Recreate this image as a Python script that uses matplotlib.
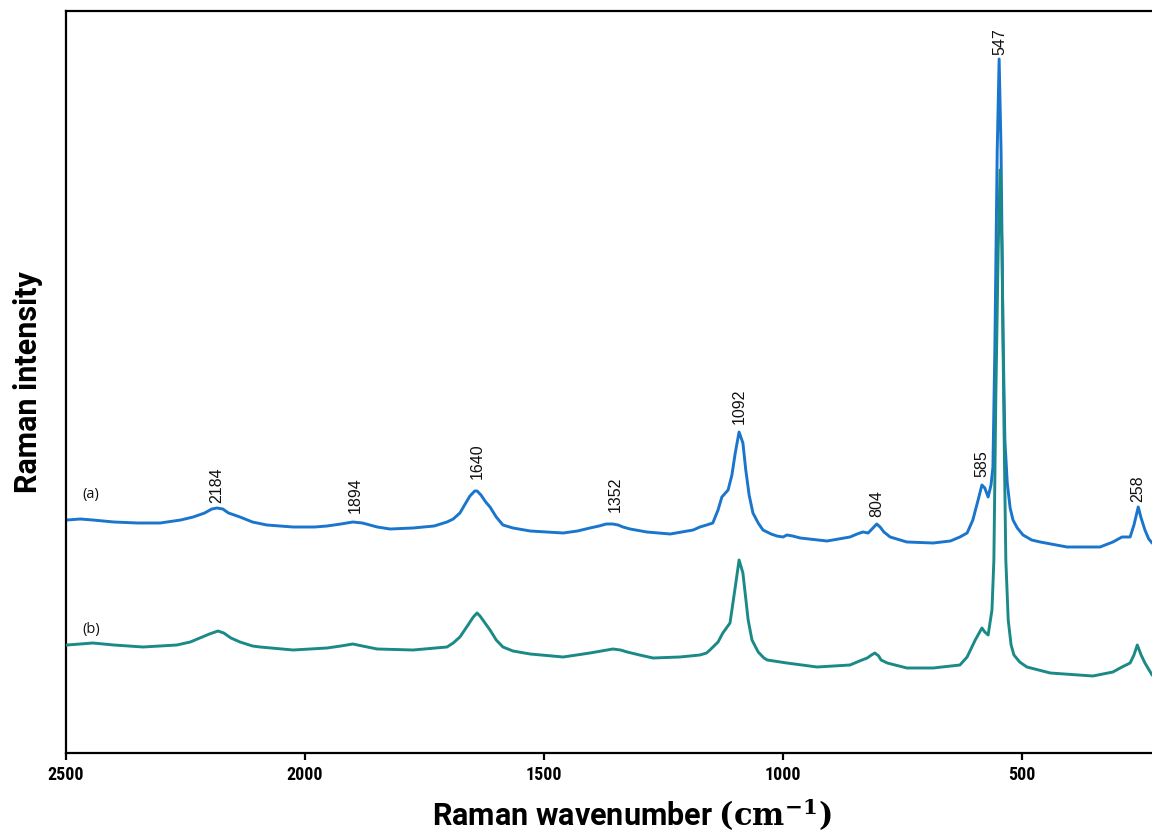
import matplotlib
matplotlib.use("Agg")
import matplotlib.pyplot as plt

plt.rcParams['mathtext.fontset'] = 'dejavuserif'

# Spectrum (a) - wavenumber (cm^-1) and intensity (a.u.)
wn_a = [2498, 2470, 2444, 2400, 2350, 2303, 2260, 2234, 2210, 2195, 2184, 2172,
        2160, 2136, 2110, 2080, 2025, 1980, 1954, 1925, 1900, 1880, 1849, 1822,
        1774, 1730, 1703, 1690, 1676, 1665, 1655, 1645, 1640, 1632, 1622, 1613,
        1600, 1586, 1565, 1529, 1460, 1430, 1404, 1385, 1370, 1356, 1345, 1335,
        1320, 1285, 1236, 1188, 1174, 1160, 1147, 1136, 1128, 1115, 1107, 1100,
        1092, 1084, 1078, 1071, 1063, 1052, 1042, 1025, 1013, 1000, 992, 980,
        964, 908, 860, 845, 833, 822, 812, 804, 797, 789, 776, 741, 686, 650,
        630, 615, 603, 592, 584, 578, 571, 565, 561, 557, 552, 548, 544, 540,
        536, 531, 525, 519, 510, 498, 480, 462, 406, 337, 310, 291, 280, 274,
        266, 257, 251, 243, 235, 228, 210]
int_a = [233, 234, 233, 231, 230, 230, 233, 236, 240, 244, 245, 244,
         240, 236, 231, 228, 226, 226, 227, 229, 231, 230, 226, 224,
         225, 227, 231, 234, 240, 249, 257, 262, 262, 258, 251, 246,
         236, 228, 225, 222, 220, 222, 225, 227, 229, 229, 228, 226,
         224, 221, 219, 223, 226, 228, 230, 243, 256, 263, 278, 300,
         321, 310, 283, 258, 240, 230, 223, 219, 217, 216, 218, 217,
         215, 212, 216, 219, 221, 220, 225, 229, 226, 221, 216, 211, 210, 212,
         216, 220, 233, 253, 268, 265, 256, 268, 286, 403, 603, 694, 603, 423,
         313, 270, 245, 233, 225, 218, 213, 211, 206, 206, 211, 216, 216, 216,
         228, 246, 235, 223, 214, 210, 205]

# Spectrum (b)
wn_b = [2498, 2470, 2444, 2400, 2339, 2268, 2240, 2220, 2200, 2182, 2170, 2155,
        2136, 2110, 2094, 2025, 1954, 1925, 1900, 1880, 1849, 1774, 1703, 1690,
        1676, 1659, 1648, 1640, 1634, 1628, 1613, 1600, 1586, 1565, 1529, 1460,
        1404, 1380, 1356, 1340, 1326, 1300, 1272, 1216, 1174, 1160, 1153, 1136,
        1126, 1111, 1100, 1092, 1084, 1073, 1065, 1052, 1040, 1033, 992, 929,
        860, 840, 824, 815, 808, 800, 795, 782, 741, 686, 630, 615, 598, 584,
        578, 571, 563, 559, 555, 550, 546, 542, 538, 534, 529, 523, 517, 505,
        490, 441, 352, 310, 291, 274, 266, 259, 251, 243, 228, 210]
int_b = [108, 109, 110, 108, 106, 108, 111, 115, 119, 122, 120, 115,
         111, 107, 106, 103, 105, 107, 109, 107, 104, 103, 106, 110,
         116, 128, 136, 140, 137, 133, 123, 113, 106, 102, 99, 96,
         100, 102, 104, 103, 101, 98, 95, 96, 98, 100, 103, 111,
         120, 130, 166, 193, 180, 133, 113, 101, 95, 93, 90, 86,
         88, 92, 95, 98, 100, 97, 93, 90, 85, 85, 88, 96, 113, 125,
         121, 118, 143, 193, 353, 503, 583, 503, 333, 193, 133, 108, 98, 91,
         86, 80, 77, 81, 86, 90, 98, 108, 98, 90, 78, 74]

# Peak labels
peak_labels = ['2184', '1894', '1640', '1352', '1092', '804', '585', '547', '258']
peak_wn = [2184, 1894, 1640, 1352, 1092, 804, 585, 547, 258]
peak_label_y = [250, 240, 274, 241, 329, 236, 276, 698, 251]

series_names = ['(a)', '(b)']
series_name_y = [259, 123]

xticks = [2500, 2000, 1500, 1000, 500]

W, H = 1152, 834
fig = plt.figure(figsize=(W / 100, H / 100), dpi=100)
ax_left, ax_right, ax_top, ax_bottom = 66, 1198, 11, 753
ax = fig.add_axes([ax_left / W, 1 - ax_bottom / H,
                   (ax_right - ax_left) / W, (ax_bottom - ax_top) / H])

blue = '#1a75cc'
teal = '#1b8a87'
ax.plot(wn_a, int_a, color=blue, lw=2.1, solid_joinstyle='round', zorder=2)
ax.plot(wn_b, int_b, color=teal, lw=2.1, solid_joinstyle='round', zorder=3)

ax.set_xlim(2500, 132)
ax.set_ylim(0, 742)

for lab, x, y in zip(peak_labels, peak_wn, peak_label_y):
    ax.text(x, y, lab, rotation=90, ha='center', va='bottom',
            fontsize=11.5, family=['Liberation Sans', 'DejaVu Sans'], color='#111111')

for name, y in zip(series_names, series_name_y):
    ax.text(2466, y, name, ha='left', va='center', fontsize=10.5,
            family=['Open Sans', 'DejaVu Sans'], color='#111111')

for s in ['left', 'top', 'bottom']:
    ax.spines[s].set_linewidth(1.6)
    ax.spines[s].set_color('black')
ax.spines['right'].set_visible(False)

ax.set_yticks([])
ax.set_xticks(xticks)
ax.set_xticklabels([str(t) for t in xticks])
ax.tick_params(axis='x', direction='out', length=5, width=1.6, pad=4)
for lbl in ax.get_xticklabels():
    lbl.set_family(['Roboto Condensed', 'Liberation Sans Narrow', 'DejaVu Sans'])
    lbl.set_fontweight('bold')
    lbl.set_fontsize(13)
    lbl.set_fontstretch('condensed')

ax.set_ylabel('Raman intensity', fontsize=22, fontweight='bold',
              family=['Roboto', 'DejaVu Sans'])
ax.yaxis.label.set_va('center')
ax.yaxis.set_label_coords((28 - ax_left) / (ax_right - ax_left), 0.5)

ax.set_xlabel('Raman wavenumber ' + r'$\mathbf{(cm^{-1})}$', fontsize=22,
              fontweight='bold', family=['Roboto', 'DejaVu Sans'])
ax.xaxis.label.set_va('center')
ax.xaxis.set_label_coords(0.5, -(815 - ax_bottom) / (ax_bottom - ax_top))

fig.savefig('out.png', dpi=100)
